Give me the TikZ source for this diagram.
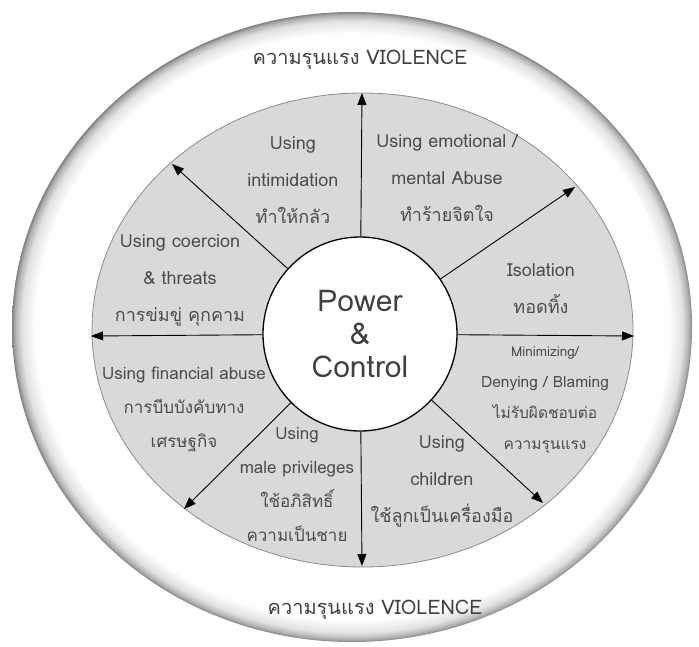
\documentclass[tikz,border=0pt]{standalone}
\usepackage{fontspec}
\setmainfont[Script=Thai]{Loma}
\usetikzlibrary{arrows.meta}
\pgfdeclareradialshading{rimshade}{\pgfpoint{0bp}{0bp}}{color(0bp)=(white); color(23.3bp)=(white); color(24.3bp)=(black!12); color(24.8bp)=(black!32); color(25bp)=(black!50); color(50bp)=(black!50)}
\tikzset{
  spoke/.style={draw=black, line width=0.9pt, -{Triangle[length=12pt,width=9pt]}},
  lbl/.style={align=center, text=black!70, font=\fontsize{18}{37}\selectfont},
  viol/.style={text=black!75, font=\fontsize{20}{24}\selectfont},
}
\begin{document}
\begin{tikzpicture}[x=1pt,y=-1pt]
\useasboundingbox (0,0) rectangle (699,646);
\shade[shading=rimshade] (352,327) ellipse [x radius=340pt, y radius=315pt];
\filldraw[fill=black!15, draw=black!45, line width=0.8pt] (362.5,330) ellipse [x radius=270.5pt, y radius=237pt];
\node[circle, draw=black, fill=white, line width=1.3pt, minimum size=194pt, inner sep=0pt,
  align=center, text=black!75, font=\fontsize{30}{33}\selectfont] (pc) at (360,334) {Power\\\&\\Control};
\coordinate (tN) at (362,93);
\coordinate (tNE) at (575,187);
\coordinate (tE) at (634,336);
\coordinate (tSE) at (543,503);
\coordinate (tS) at (362,566);
\coordinate (tSW) at (184,509);
\coordinate (tW) at (91,336);
\coordinate (tNW) at (172,164);
\foreach \t in {tN,tNE,tE,tSE,tS,tSW,tW,tNW}
\draw[spoke] (pc) -- (\t);
\node[lbl] (intim) at (293,180) {Using\\intimidation\\ทำให้กลัว};
\node[lbl] (emot) at (447,178) {Using emotional /\\mental Abuse\\ทำร้ายจิตใจ};
\node[lbl] (isol) at (541,289) {Isolation\\ทอดทิ้ง};
\node[lbl, font=\fontsize{15.5}{31}\selectfont] (minim) at (545,400) {{\fontsize{13.5}{31}\selectfont Minimizing/}\\Denying / Blaming\\ไม่รับผิดชอบต่อ\\ความรุนแรง};
\node[lbl] (child) at (442,481) {Using\\children\\ใช้ลูกเป็นเครื่องมือ};
\node[lbl, font=\fontsize{17}{34}\selectfont] (male) at (297,484) {Using\\male privileges\\ใช้อภิสิทธิ์\\ความเป็นชาย};
\node[lbl, font=\fontsize{17}{34}\selectfont] (finan) at (184,409) {Using financial abuse\\การบีบบังคับทาง\\เศรษฐกิจ};
\node[lbl] (coerc) at (180,280) {Using coercion\\\& threats\\การข่มขู่ คุกคาม};
\node[viol] (vtop) at (360,60) {ความรุนแรง VIOLENCE};
\node[viol] (vbot) at (375,610) {ความรุนแรง VIOLENCE};
\end{tikzpicture}
\end{document}
